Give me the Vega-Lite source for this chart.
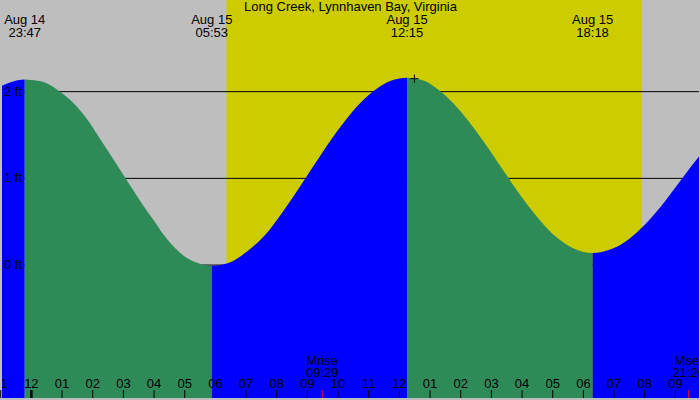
{
  "$schema": "https://vega.github.io/schema/vega-lite/v6.json",
  "width": 700,
  "height": 400,
  "autosize": {"type": "fit", "contains": "padding"},
  "padding": 0,
  "background": "#bebebe",
  "config": {
    "view": {"stroke": null},
    "text": {"font": "Liberation Sans", "fontSize": 13, "color": "black"}
  },
  "title": {
    "text": "Long Creek, Lynnhaven Bay, Virginia",
    "font": "Liberation Sans",
    "fontSize": 13,
    "fontWeight": "normal",
    "color": "black",
    "anchor": "middle",
    "offset": -14
  },
  "datasets": {
    "tide": [
      {"hour": -1.0, "ft": 2.06, "seg": 1, "stage": "rising"},
      {"hour": -0.7, "ft": 2.105, "seg": 1, "stage": "rising"},
      {"hour": -0.45, "ft": 2.132, "seg": 1, "stage": "rising"},
      {"hour": -0.217, "ft": 2.14, "seg": 1, "stage": "rising"},
      {"hour": -0.217, "ft": 2.14, "seg": 2, "stage": "falling"},
      {"hour": 0.0, "ft": 2.134, "seg": 2, "stage": "falling"},
      {"hour": 0.4, "ft": 2.11, "seg": 2, "stage": "falling"},
      {"hour": 0.935, "ft": 2.0, "seg": 2, "stage": "falling"},
      {"hour": 1.37, "ft": 1.87, "seg": 2, "stage": "falling"},
      {"hour": 1.8, "ft": 1.69, "seg": 2, "stage": "falling"},
      {"hour": 2.18, "ft": 1.49, "seg": 2, "stage": "falling"},
      {"hour": 2.6, "ft": 1.26, "seg": 2, "stage": "falling"},
      {"hour": 3.07, "ft": 1.0, "seg": 2, "stage": "falling"},
      {"hour": 3.585, "ft": 0.72, "seg": 2, "stage": "falling"},
      {"hour": 4.0, "ft": 0.51, "seg": 2, "stage": "falling"},
      {"hour": 4.29, "ft": 0.36, "seg": 2, "stage": "falling"},
      {"hour": 4.7, "ft": 0.19, "seg": 2, "stage": "falling"},
      {"hour": 5.1, "ft": 0.075, "seg": 2, "stage": "falling"},
      {"hour": 5.45, "ft": 0.02, "seg": 2, "stage": "falling"},
      {"hour": 5.7, "ft": -0.005, "seg": 2, "stage": "falling"},
      {"hour": 5.883, "ft": -0.01, "seg": 2, "stage": "falling"},
      {"hour": 5.883, "ft": -0.01, "seg": 3, "stage": "rising"},
      {"hour": 6.1, "ft": -0.004, "seg": 3, "stage": "rising"},
      {"hour": 6.4, "ft": 0.02, "seg": 3, "stage": "rising"},
      {"hour": 6.75, "ft": 0.085, "seg": 3, "stage": "rising"},
      {"hour": 7.25, "ft": 0.22, "seg": 3, "stage": "rising"},
      {"hour": 7.75, "ft": 0.4, "seg": 3, "stage": "rising"},
      {"hour": 8.25, "ft": 0.64, "seg": 3, "stage": "rising"},
      {"hour": 8.75, "ft": 0.9, "seg": 3, "stage": "rising"},
      {"hour": 9.25, "ft": 1.17, "seg": 3, "stage": "rising"},
      {"hour": 9.75, "ft": 1.435, "seg": 3, "stage": "rising"},
      {"hour": 10.25, "ft": 1.674, "seg": 3, "stage": "rising"},
      {"hour": 10.75, "ft": 1.878, "seg": 3, "stage": "rising"},
      {"hour": 11.25, "ft": 2.03, "seg": 3, "stage": "rising"},
      {"hour": 11.7, "ft": 2.122, "seg": 3, "stage": "rising"},
      {"hour": 12.0, "ft": 2.152, "seg": 3, "stage": "rising"},
      {"hour": 12.25, "ft": 2.16, "seg": 3, "stage": "rising"},
      {"hour": 12.25, "ft": 2.16, "seg": 4, "stage": "falling"},
      {"hour": 12.5, "ft": 2.152, "seg": 4, "stage": "falling"},
      {"hour": 12.85, "ft": 2.12, "seg": 4, "stage": "falling"},
      {"hour": 13.25, "ft": 2.027, "seg": 4, "stage": "falling"},
      {"hour": 13.75, "ft": 1.869, "seg": 4, "stage": "falling"},
      {"hour": 14.25, "ft": 1.661, "seg": 4, "stage": "falling"},
      {"hour": 14.75, "ft": 1.422, "seg": 4, "stage": "falling"},
      {"hour": 15.25, "ft": 1.163, "seg": 4, "stage": "falling"},
      {"hour": 15.75, "ft": 0.904, "seg": 4, "stage": "falling"},
      {"hour": 16.25, "ft": 0.66, "seg": 4, "stage": "falling"},
      {"hour": 16.75, "ft": 0.449, "seg": 4, "stage": "falling"},
      {"hour": 17.25, "ft": 0.286, "seg": 4, "stage": "falling"},
      {"hour": 17.7, "ft": 0.188, "seg": 4, "stage": "falling"},
      {"hour": 18.0, "ft": 0.152, "seg": 4, "stage": "falling"},
      {"hour": 18.3, "ft": 0.14, "seg": 4, "stage": "falling"},
      {"hour": 18.3, "ft": 0.14, "seg": 5, "stage": "rising"},
      {"hour": 18.6, "ft": 0.152, "seg": 5, "stage": "rising"},
      {"hour": 19.05, "ft": 0.205, "seg": 5, "stage": "rising"},
      {"hour": 19.5, "ft": 0.305, "seg": 5, "stage": "rising"},
      {"hour": 20.0, "ft": 0.465, "seg": 5, "stage": "rising"},
      {"hour": 20.5, "ft": 0.665, "seg": 5, "stage": "rising"},
      {"hour": 21.0, "ft": 0.895, "seg": 5, "stage": "rising"},
      {"hour": 21.5, "ft": 1.13, "seg": 5, "stage": "rising"},
      {"hour": 21.8, "ft": 1.265, "seg": 5, "stage": "rising"}
    ],
    "daylight": [{"start": 6.36, "end": 19.915}],
    "levels": [
      {"ft": 0, "label": "0 ft"},
      {"ft": 1, "label": "1 ft"},
      {"ft": 2, "label": "2 ft"}
    ],
    "extremes": [
      {"hour": -0.217, "label": "Aug 14\n23:47"},
      {"hour": 5.883, "label": "Aug 15\n05:53"},
      {"hour": 12.25, "label": "Aug 15\n12:15"},
      {"hour": 18.3, "label": "Aug 15\n18:18"}
    ],
    "hours": [
      {"hour": -1, "label": "11"},
      {"hour": 0, "label": "12"},
      {"hour": 1, "label": "01"},
      {"hour": 2, "label": "02"},
      {"hour": 3, "label": "03"},
      {"hour": 4, "label": "04"},
      {"hour": 5, "label": "05"},
      {"hour": 6, "label": "06"},
      {"hour": 7, "label": "07"},
      {"hour": 8, "label": "08"},
      {"hour": 9, "label": "09"},
      {"hour": 10, "label": "10"},
      {"hour": 11, "label": "11"},
      {"hour": 12, "label": "12"},
      {"hour": 13, "label": "01"},
      {"hour": 14, "label": "02"},
      {"hour": 15, "label": "03"},
      {"hour": 16, "label": "04"},
      {"hour": 17, "label": "05"},
      {"hour": 18, "label": "06"},
      {"hour": 19, "label": "07"},
      {"hour": 20, "label": "08"},
      {"hour": 21, "label": "09"}
    ],
    "moon": [
      {"hour": 9.483, "label": "Mrise\n09:29"},
      {"hour": 21.433, "label": "Mset\n21:26"}
    ],
    "now": [{"hour": 12.49, "ft": 2.15}]
  },
  "layer": [
    {
      "data": {"name": "daylight"},
      "mark": {"type": "rect", "color": "#cccc00"},
      "encoding": {
        "x": {"field": "start", "type": "quantitative", "axis": null},
        "x2": {"field": "end"},
        "y": {"datum": -1.533, "type": "quantitative", "axis": null},
        "y2": {"datum": 3.057}
      }
    },
    {
      "data": {"name": "levels"},
      "mark": {"type": "rule", "color": "black", "strokeWidth": 1},
      "encoding": {
        "y": {"field": "ft", "type": "quantitative", "axis": null}
      }
    },
    {
      "data": {"name": "tide"},
      "mark": {"type": "area", "interpolate": "monotone", "clip": true},
      "encoding": {
        "x": {"field": "hour", "type": "quantitative", "scale": {"domain": [-0.958, 21.77], "nice": false, "zero": false}, "axis": null},
        "y": {"field": "ft", "type": "quantitative", "stack": null, "scale": {"domain": [-1.533, 3.057], "nice": false, "zero": false}, "axis": null},
        "y2": {"datum": -1.533},
        "detail": {"field": "seg"},
        "color": {"field": "stage", "type": "nominal", "scale": {"domain": ["rising", "falling"], "range": ["#0000ff", "#2e8b57"]}, "legend": null}
      }
    },
    {
      "data": {"name": "now"},
      "mark": {"type": "point", "shape": "M-1,0H1M0,-1V1", "size": 64, "filled": false, "stroke": "black", "strokeWidth": 1, "opacity": 1},
      "encoding": {
        "x": {"field": "hour", "type": "quantitative", "axis": null},
        "y": {"field": "ft", "type": "quantitative", "axis": null}
      }
    },
    {
      "data": {"name": "levels"},
      "mark": {"type": "text", "align": "left", "baseline": "middle", "dx": 2, "color": "black"},
      "encoding": {
        "x": {"datum": -0.958, "type": "quantitative", "axis": null},
        "y": {"field": "ft", "type": "quantitative", "axis": null},
        "text": {"field": "label"}
      }
    },
    {
      "data": {"name": "extremes"},
      "mark": {"type": "text", "align": "center", "baseline": "alphabetic", "lineBreak": "\n", "lineHeight": 12.4, "color": "black"},
      "encoding": {
        "x": {"field": "hour", "type": "quantitative", "axis": null},
        "y": {"datum": 2.778, "type": "quantitative", "axis": null},
        "text": {"field": "label"}
      }
    },
    {
      "data": {"name": "hours"},
      "mark": {"type": "rule", "color": "black"},
      "encoding": {
        "x": {"field": "hour", "type": "quantitative", "axis": null},
        "y": {"datum": -1.533, "type": "quantitative", "axis": null},
        "y2": {"datum": -1.441},
        "strokeWidth": {"condition": {"test": "datum.hour === 0", "value": 2.5}, "value": 1}
      }
    },
    {
      "data": {"name": "hours"},
      "mark": {"type": "text", "align": "center", "baseline": "alphabetic", "clip": true, "color": "black"},
      "encoding": {
        "x": {"field": "hour", "type": "quantitative", "axis": null},
        "y": {"datum": -1.418, "type": "quantitative", "axis": null},
        "text": {"field": "label"}
      }
    },
    {
      "data": {"name": "moon"},
      "mark": {"type": "rule", "color": "#ff0000", "strokeWidth": 1},
      "encoding": {
        "x": {"field": "hour", "type": "quantitative", "axis": null},
        "y": {"datum": -1.533, "type": "quantitative", "axis": null},
        "y2": {"datum": -1.441}
      }
    },
    {
      "data": {"name": "moon"},
      "mark": {"type": "text", "align": "center", "baseline": "alphabetic", "lineBreak": "\n", "lineHeight": 11.8, "clip": true, "color": "black"},
      "encoding": {
        "x": {"field": "hour", "type": "quantitative", "axis": null},
        "y": {"datum": -1.149, "type": "quantitative", "axis": null},
        "text": {"field": "label"}
      }
    }
  ]
}
